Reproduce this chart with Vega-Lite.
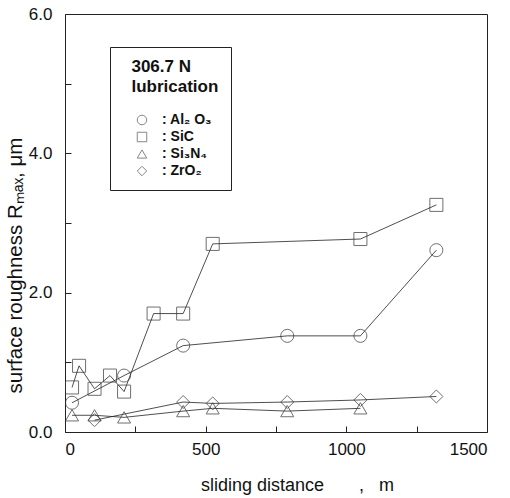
{
  "$schema": "https://vega.github.io/schema/vega-lite/v6.json",
  "autosize": {"type": "none"},
  "padding": {"left": 65, "top": 14, "right": 23, "bottom": 66},
  "width": 422,
  "height": 418,
  "background": "white",
  "config": {
    "view": {"stroke": "#222", "strokeWidth": 1},
    "font": "Liberation Sans",
    "axis": {"grid": false, "domain": false, "tickColor": "#222", "labelColor": "#111", "titleColor": "#111", "labelFont": "Liberation Sans", "titleFont": "Liberation Sans", "titleFontWeight": "normal"}
  },
  "data": {
    "values": [
      {"material": "Al₂ O₃", "distance": 25, "rmax": 0.42},
      {"material": "Al₂ O₃", "distance": 210, "rmax": 0.81},
      {"material": "Al₂ O₃", "distance": 420, "rmax": 1.24},
      {"material": "Al₂ O₃", "distance": 790, "rmax": 1.38},
      {"material": "Al₂ O₃", "distance": 1050, "rmax": 1.38},
      {"material": "Al₂ O₃", "distance": 1320, "rmax": 2.61},
      {"material": "SiC", "distance": 25, "rmax": 0.64},
      {"material": "SiC", "distance": 50, "rmax": 0.95},
      {"material": "SiC", "distance": 105, "rmax": 0.62},
      {"material": "SiC", "distance": 160, "rmax": 0.81},
      {"material": "SiC", "distance": 210, "rmax": 0.58},
      {"material": "SiC", "distance": 315, "rmax": 1.70},
      {"material": "SiC", "distance": 420, "rmax": 1.70},
      {"material": "SiC", "distance": 525, "rmax": 2.70},
      {"material": "SiC", "distance": 1050, "rmax": 2.77},
      {"material": "SiC", "distance": 1320, "rmax": 3.26},
      {"material": "Si₃N₄", "distance": 25, "rmax": 0.24},
      {"material": "Si₃N₄", "distance": 105, "rmax": 0.24},
      {"material": "Si₃N₄", "distance": 210, "rmax": 0.21},
      {"material": "Si₃N₄", "distance": 420, "rmax": 0.30},
      {"material": "Si₃N₄", "distance": 525, "rmax": 0.34},
      {"material": "Si₃N₄", "distance": 790, "rmax": 0.30},
      {"material": "Si₃N₄", "distance": 1050, "rmax": 0.34},
      {"material": "ZrO₂", "distance": 105, "rmax": 0.17},
      {"material": "ZrO₂", "distance": 420, "rmax": 0.43},
      {"material": "ZrO₂", "distance": 525, "rmax": 0.41},
      {"material": "ZrO₂", "distance": 790, "rmax": 0.43},
      {"material": "ZrO₂", "distance": 1050, "rmax": 0.46},
      {"material": "ZrO₂", "distance": 1320, "rmax": 0.51}
    ]
  },
  "encoding": {
    "x": {
      "field": "distance", "type": "quantitative",
      "scale": {"domain": [0, 1500], "nice": false},
      "axis": {
        "values": [0, 250, 500, 750, 1000, 1250, 1500],
        "labelExpr": "datum.value % 500 == 0 ? datum.value : ''",
        "tickSize": -6, "labelPadding": 15, "labelFontSize": 17,
        "title": "sliding distance\u00a0\u00a0\u00a0\u00a0\u00a0\u00a0\u00a0,\u00a0\u00a0\u00a0m",
        "titleFontSize": 18, "titleX": 232, "titleY": 58, "titleBaseline": "alphabetic", "titleAlign": "center"
      }
    },
    "y": {
      "field": "rmax", "type": "quantitative",
      "scale": {"domain": [0, 6], "nice": false},
      "axis": {
        "values": [0, 1, 2, 3, 4, 5, 6],
        "labelExpr": "datum.value % 2 == 0 ? format(datum.value, '.1f') : ''",
        "tickSize": -6, "labelPadding": 19, "labelFontSize": 17,
        "title": "surface roughness Rₘₐₓ, μm",
        "titleFontSize": 20.5, "titleX": -44, "titleY": 251, "titleBaseline": "alphabetic", "titleAlign": "center", "titleAngle": 270
      }
    }
  },
  "layer": [
    {
      "mark": {"type": "line", "color": "#222", "strokeWidth": 0.8},
      "encoding": {"detail": {"field": "material"}}
    },
    {
      "mark": {"type": "point", "filled": false, "color": "#333", "strokeWidth": 1, "size": 170},
      "encoding": {
        "shape": {
          "field": "material", "type": "nominal",
          "scale": {"domain": ["Al₂ O₃", "SiC", "Si₃N₄", "ZrO₂"], "range": ["circle", "square", "triangle-up", "diamond"]},
          "legend": {
            "orient": "none", "legendX": 45, "legendY": 33,
            "title": ["\u200b\u00a0\u00a0306.7 N", "\u200b\u00a0\u00a0lubrication"],
            "titleFontSize": 17, "titleFontWeight": "bold", "titleFont": "Liberation Sans", "titleColor": "#111", "titleLineHeight": 20,
            "titlePadding": 17,
            "labelExpr": "': ' + datum.label",
            "labelFontSize": 14, "labelFontWeight": "bold", "labelColor": "#111", "labelFont": "Liberation Sans",
            "symbolSize": 90, "symbolStrokeColor": "#555", "symbolStrokeWidth": 1, "symbolType": "circle",
            "symbolOffset": 13,
            "rowPadding": 3, "labelOffset": 13,
            "padding": 12, "strokeColor": "#222", "fillColor": "white"
          }
        }
      }
    }
  ]
}
